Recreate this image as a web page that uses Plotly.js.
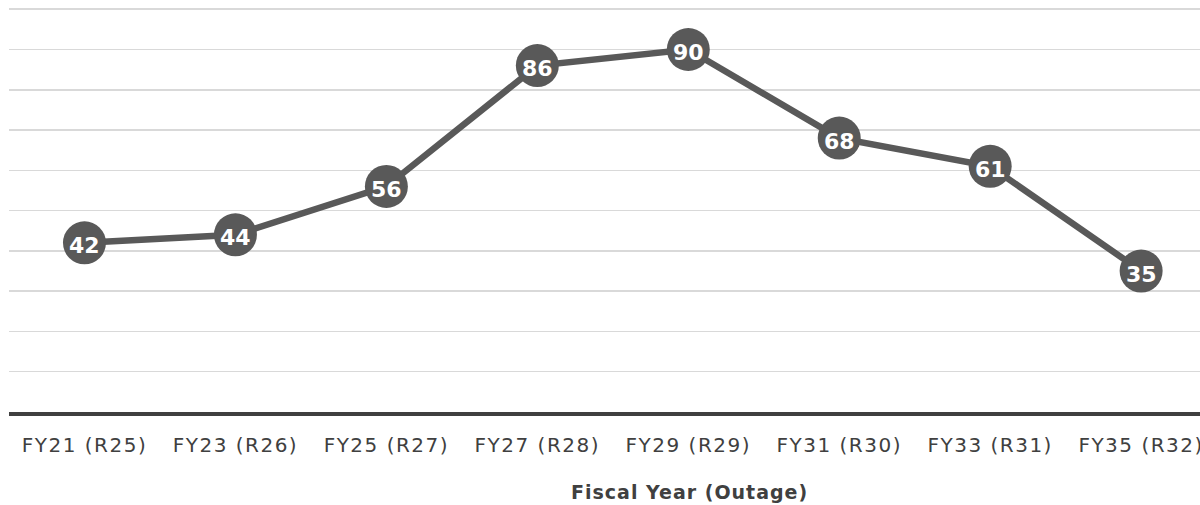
<!DOCTYPE html>
<html>
<head>
<meta charset="utf-8">
<script src="https://cdn.plot.ly/plotly-3.0.1.min.js"></script>
<style>
  html, body { margin: 0; padding: 0; background: #fff; }
  #chart { width: 1200px; height: 505px; }
  /* wide, airy lettering for the category labels and axis caption */
  #chart .xtick text { letter-spacing: 1.5px; }
  #chart .annotation-text.caption { letter-spacing: 1px; }
</style>
</head>
<body>
<div id="chart"></div>
<script>
// Outage counts by fiscal year
const fiscalYears = ["FY21 (R25)", "FY23 (R26)", "FY25 (R27)", "FY27 (R28)", "FY29 (R29)", "FY31 (R30)", "FY33 (R31)", "FY35 (R32)"];
const outageCounts = [42, 44, 56, 86, 90, 68, 61, 35];
const axisCaption = "Fiscal Year (Outage)";

const fontFamily = "'DejaVu Sans', 'Noto Sans', sans-serif";

const trace = {
  x: fiscalYears,
  y: outageCounts,
  type: "scatter",
  mode: "lines+markers",
  line: { color: "#595959", width: 6.5 },
  marker: { color: "#595959", size: 43, line: { width: 0 } },
  cliponaxis: false,
  hoverinfo: "x+y"
};

// value labels sit inside each dot, nudged slightly below its centre
const valueLabels = fiscalYears.map((fy, i) => ({
  x: fy,
  y: outageCounts[i],
  xref: "x", yref: "y",
  text: String(outageCounts[i]),
  showarrow: false,
  xanchor: "center", yanchor: "middle",
  yshift: -3,
  font: { family: fontFamily, size: 22, color: "#ffffff", weight: "bold" }
}));

const layout = {
  width: 1200,
  height: 505,
  margin: { l: 9, r: 0, t: 8, b: 93 },
  paper_bgcolor: "#ffffff",
  plot_bgcolor: "#ffffff",
  showlegend: false,
  xaxis: {
    type: "category",
    range: [-0.5, 7.39],
    showgrid: false,
    zeroline: false,
    showline: true,
    linecolor: "#404040",
    linewidth: 4,
    ticks: "",
    ticklabelstandoff: 12,
    tickfont: { family: fontFamily, size: 20, color: "#404040" },
    fixedrange: true
  },
  yaxis: {
    range: [0, 100.3],
    dtick: 10,
    showgrid: true,
    gridcolor: "#d9d9d9",
    gridwidth: 1.5,
    zeroline: false,
    showline: false,
    showticklabels: false,
    ticks: "",
    fixedrange: true
  },
  annotations: valueLabels.concat([{
    text: axisCaption,
    xref: "paper", yref: "paper",
    x: 0.571, y: -0.197,
    xanchor: "center", yanchor: "middle",
    showarrow: false,
    font: { family: fontFamily, size: 19, color: "#404040", weight: "bold" }
  }])
};

Plotly.newPlot("chart", [trace], layout, { displayModeBar: false, staticPlot: true }).then(() => {
  // letter-spacing for the axis caption only
  const notes = document.querySelectorAll("#chart .annotation-text");
  const cap = notes[notes.length - 1];
  if (cap) cap.style.letterSpacing = "1px";
});
</script>
</body>
</html>
